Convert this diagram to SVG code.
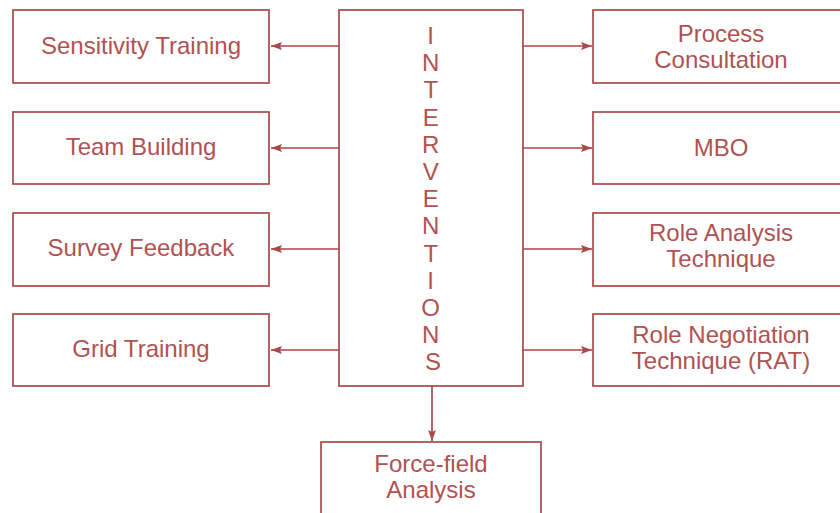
<svg xmlns="http://www.w3.org/2000/svg" width="840" height="513" viewBox="0 0 840 513">
  <style>
    .box { fill: #ffffff; stroke: #a94848; stroke-width: 1.7; }
    .lbl { font-family: "Liberation Sans", Arial, sans-serif; font-size: 24px; fill: #b05252; text-anchor: middle; }
    .wire { stroke: #a94848; stroke-width: 1.7; fill: none; marker-end: url(#arrow); }
  </style>
  <defs>
    <marker id="arrow" viewBox="0 0 11 8" refX="11" refY="4" markerWidth="11" markerHeight="8" markerUnits="userSpaceOnUse" orient="auto">
      <path d="M0,0 L11,4 L0,8 L2,4 Z" fill="#a94848"/>
    </marker>
  </defs>
  <rect width="840" height="513" fill="#ffffff"/>

  <!-- connectors -->
  <g id="connectors">
    <line class="wire" x1="339" y1="46" x2="271" y2="46"/>
    <line class="wire" x1="339" y1="148" x2="271" y2="148"/>
    <line class="wire" x1="339" y1="249" x2="271" y2="249"/>
    <line class="wire" x1="339" y1="350" x2="271" y2="350"/>
    <line class="wire" x1="523" y1="46" x2="592" y2="46"/>
    <line class="wire" x1="523" y1="148" x2="592" y2="148"/>
    <line class="wire" x1="523" y1="249" x2="592" y2="249"/>
    <line class="wire" x1="523" y1="350" x2="592" y2="350"/>
    <line class="wire" x1="432" y1="386" x2="432" y2="441"/>
  </g>

  <!-- central node -->
  <g id="interventions">
    <rect class="box" x="339" y="10" width="184" height="376"/>
    <text class="lbl">
      <tspan x="434" y="44">I</tspan>
      <tspan x="434" y="71">N</tspan>
      <tspan x="434" y="98">T</tspan>
      <tspan x="434" y="126">E</tspan>
      <tspan x="434" y="153">R</tspan>
      <tspan x="434" y="180">V</tspan>
      <tspan x="434" y="207">E</tspan>
      <tspan x="434" y="234">N</tspan>
      <tspan x="434" y="262">T</tspan>
      <tspan x="434" y="289">I</tspan>
      <tspan x="434" y="316">O</tspan>
      <tspan x="434" y="343">N</tspan>
      <tspan x="433" y="370">S</tspan>
    </text>
  </g>

  <!-- left column -->
  <g id="sensitivity-training">
    <rect class="box" x="13" y="10" width="256" height="73"/>
    <text class="lbl" x="141" y="54">Sensitivity Training</text>
  </g>
  <g id="team-building">
    <rect class="box" x="13" y="112" width="256" height="72"/>
    <text class="lbl" x="141" y="155">Team Building</text>
  </g>
  <g id="survey-feedback">
    <rect class="box" x="13" y="213" width="256" height="73"/>
    <text class="lbl" x="141" y="256">Survey Feedback</text>
  </g>
  <g id="grid-training">
    <rect class="box" x="13" y="314" width="256" height="72"/>
    <text class="lbl" x="141" y="357">Grid Training</text>
  </g>

  <!-- right column -->
  <g id="process-consultation">
    <rect class="box" x="593" y="10" width="256" height="73"/>
    <text class="lbl" x="721" y="42">Process</text>
    <text class="lbl" x="721" y="68">Consultation</text>
  </g>
  <g id="mbo">
    <rect class="box" x="593" y="112" width="256" height="72"/>
    <text class="lbl" x="721" y="156">MBO</text>
  </g>
  <g id="role-analysis">
    <rect class="box" x="593" y="213" width="256" height="73"/>
    <text class="lbl" x="721" y="241">Role Analysis</text>
    <text class="lbl" x="721" y="267">Technique</text>
  </g>
  <g id="role-negotiation">
    <rect class="box" x="593" y="314" width="256" height="72"/>
    <text class="lbl" x="721" y="343">Role Negotiation</text>
    <text class="lbl" x="721" y="369">Technique (RAT)</text>
  </g>

  <!-- bottom node -->
  <g id="force-field-analysis">
    <rect class="box" x="321" y="442" width="220" height="90"/>
    <text class="lbl" x="431" y="472">Force-field</text>
    <text class="lbl" x="431" y="498">Analysis</text>
  </g>
</svg>
